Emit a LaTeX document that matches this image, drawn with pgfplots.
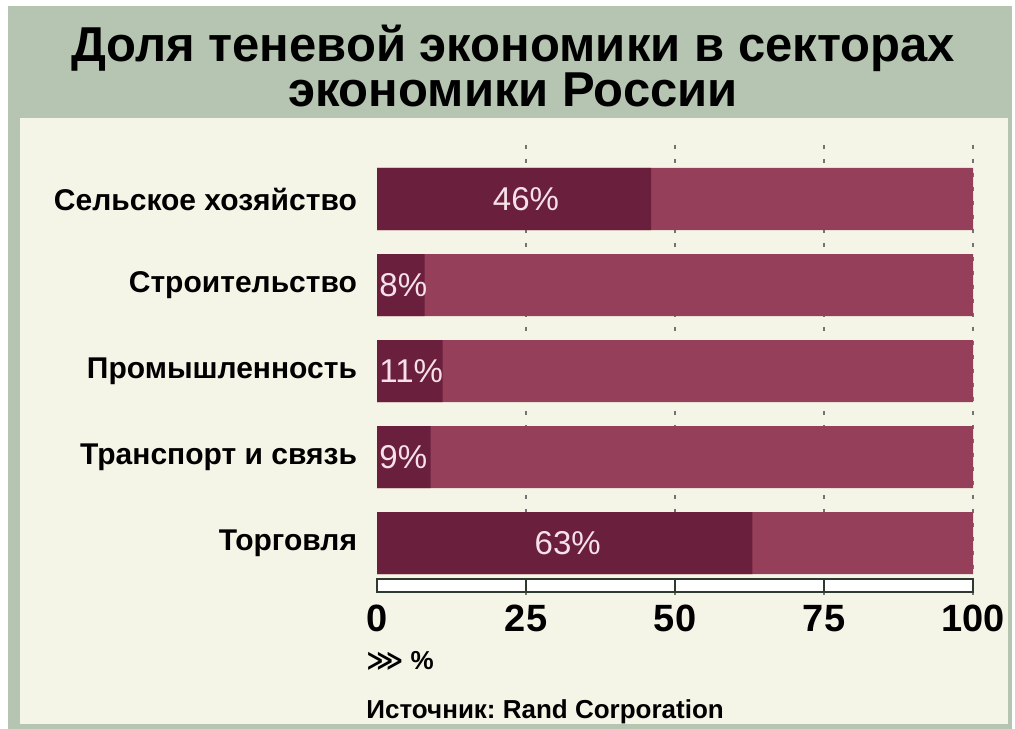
\documentclass[border=0pt]{standalone}
\usepackage{fontspec}
\setmainfont{Liberation Sans}
\newfontfamily\symfont{DejaVu Sans}
\usepackage{pgfplots}
\pgfplotsset{compat=1.18}
\frenchspacing

\definecolor{bandgreen}{HTML}{B5C5B1}
\definecolor{cream}{HTML}{F5F5E7}
\definecolor{darkbar}{HTML}{6A1F3C}
\definecolor{lightbar}{HTML}{963F5A}
\definecolor{barlabel}{HTML}{F7E1E8}
\definecolor{stripline}{HTML}{2E3A30}

\begin{document}
\begin{tikzpicture}[x=0.5bp,y=-0.5bp]
% page and frame (pixel coordinates, y down)
\fill[white] (0,0) rectangle (1015,729);
\fill[bandgreen] (8,6) rectangle (1012,729);
\fill[cream] (20,118) rectangle (1008,724);
\node[font=\bfseries\fontsize{24.5bp}{21.5bp}\selectfont, align=center]
  at (513,66) {Доля теневой экономики в секторах\\экономики России};

\begin{axis}[
    at={(188.5bp,-297.3bp)}, anchor=south west,
    scale only axis,
    width=298bp, height=224.9bp,
    xmin=0, xmax=100,
    ymin=-0.63, ymax=4.6,
    y dir=reverse,
    axis line style={draw=none},
    major tick length=0pt,
    xtick={0,25,50,75,100},
    ytick={0,1,2,3,4},
    yticklabels={Сельское хозяйство, Строительство, Промышленность, Транспорт и связь, Торговля},
    yticklabel style={font=\bfseries\fontsize{15bp}{16bp}\selectfont, xshift=-6.5bp},
    xticklabel style={font=\bfseries\fontsize{19bp}{20bp}\selectfont,
      anchor=north, text height=13.6bp, text depth=0pt, yshift=-1.5bp},
    /pgf/number format/assume math mode=true,
    extra x ticks={25,50,75,100},
    extra x tick labels={},
    extra x tick style={xmajorgrids=true},
    major grid style={gray!90!black, line width=0.8bp, dash pattern=on 2bp off 5bp},
    bar width=31bp,
    clip=false,
]
% whole sector
\addplot[xbar, fill=lightbar, draw=none] coordinates {
    (100,0) (100,1) (100,2) (100,3) (100,4)};
% shadow economy share
\addplot[xbar, fill=darkbar, draw=none] coordinates {
    (46,0) (8,1) (11,2) (9,3) (63,4)};
% labels inside the wide dark segments
\addplot[draw=none, mark=none, nodes near coords, point meta=explicit symbolic,
    every node near coord/.append style={anchor=center, text=barlabel,
      font=\fontsize{16.5bp}{17bp}\selectfont}]
  coordinates {(25,0) [46\%] (32,4) [63\%]};
% labels for the narrow segments, from the left edge
\addplot[draw=none, mark=none, nodes near coords, point meta=explicit symbolic,
    every node near coord/.append style={anchor=west, inner sep=1bp, text=barlabel,
      font=\fontsize{16.5bp}{17bp}\selectfont}]
  coordinates {(0,1) [8\%] (0,2) [11\%] (0,3) [9\%]};
% bottom scale strip
\draw[fill=white, draw=stripline, line width=1.3bp] (axis cs:0,4.42) rectangle (axis cs:100,4.57);
\draw[stripline, line width=1.3bp] (axis cs:25,4.42) -- (axis cs:25,4.57);
\draw[stripline, line width=1.3bp] (axis cs:50,4.42) -- (axis cs:50,4.57);
\draw[stripline, line width=1.3bp] (axis cs:75,4.42) -- (axis cs:75,4.57);
\end{axis}

\node[anchor=west, inner sep=1bp, font=\bfseries\fontsize{13bp}{14bp}\selectfont] at (364,661)
  {{\symfont\bfseries ⋙} \%};
\node[anchor=west, inner sep=1bp, font=\bfseries\fontsize{13bp}{14bp}\selectfont] at (364,712)
  {Источник: Rand Corporation};
\end{tikzpicture}
\end{document}
